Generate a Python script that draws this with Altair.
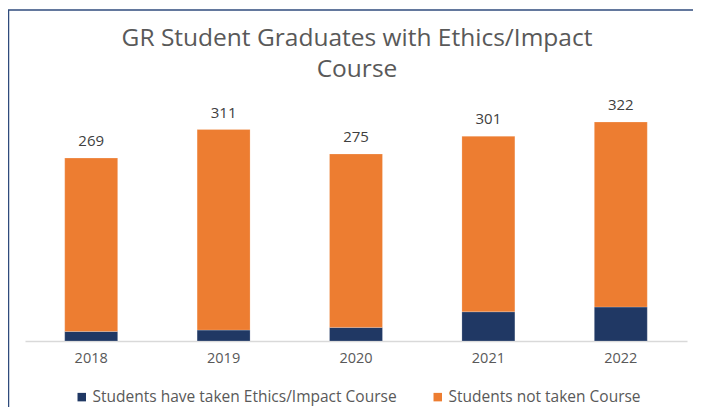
import altair as alt
import pandas as pd

years = ["2018", "2019", "2020", "2021", "2022"]
totals = [269, 311, 275, 301, 322]
taken = [14, 16, 20, 43, 50]
series_names = ["Students have taken Ethics/Impact Course", "Students not taken Course"]
series_colors = ["#203864", "#ED7D31"]
title_lines = ["GR Student Graduates with Ethics/Impact", "Course"]

rows = []
for y, t, k in zip(years, totals, taken):
    rows.append({"year": y, "series": series_names[0], "value": k, "ord": 0})
    rows.append({"year": y, "series": series_names[1], "value": t - k, "ord": 1})
bars_df = pd.DataFrame(rows)
tot_df = pd.DataFrame({"year": years, "total": totals})

FONT = "Open Sans"

x_enc = alt.X("year:N", sort=years, title=None,
              scale=alt.Scale(paddingInner=0.6, paddingOuter=0.3),
              axis=alt.Axis(labelAngle=0, ticks=False, domainColor="#D9D9D9",
                            domainWidth=1.5, labelColor="#595959", labelFontSize=14.5,
                            labelFont=FONT, labelPadding=10))
y_scale = alt.Scale(domain=[0, 350], nice=False)

bars = alt.Chart(bars_df).mark_bar(stroke="#ffffff", strokeWidth=0.5, strokeOpacity=0.4).encode(
    x=x_enc,
    y=alt.Y("value:Q", stack="zero", scale=y_scale, axis=None),
    color=alt.Color("series:N", sort=series_names,
                    scale=alt.Scale(domain=series_names, range=series_colors),
                    legend=alt.Legend(title=None, orient="none", direction="horizontal",
                                      legendX=49, legendY=286, padding=0,
                                      symbolType="square", symbolSize=72,
                                      symbolStrokeWidth=0, labelFontSize=15.5,
                                      labelColor="#595959", labelFont=FONT,
                                      labelOffset=3, columnPadding=33, labelLimit=500)),
    order=alt.Order("ord:Q", sort="ascending"),
)

labels = alt.Chart(tot_df).mark_text(baseline="bottom", dy=-9, fontSize=15,
                                     color="#404040", font=FONT).encode(
    x=alt.X("year:N", sort=years),
    y=alt.Y("total:Q", scale=y_scale),
    text=alt.Text("total:Q"),
)

frame_src = alt.Data(values=[{"k": 1}])
title_mark = alt.Chart(frame_src).mark_text(
    text=title_lines, fontSize=24.5, color="#595959", font=FONT, align="center",
    baseline="alphabetic", lineHeight=31).encode(
    x=alt.value(332), y=alt.value(-57))
frame_top = alt.Chart(frame_src).mark_rule(color="#2F4B7C", strokeWidth=1.5).encode(
    x=alt.value(-17), x2=alt.value(690), y=alt.value(-93))
frame_left = alt.Chart(frame_src).mark_rule(color="#2F4B7C", strokeWidth=1.5).encode(
    x=alt.value(-16.5), y=alt.value(-93), y2=alt.value(320))

chart = alt.layer(bars, labels, title_mark, frame_top, frame_left).properties(
    width=662,
    height=238,
    autosize=alt.AutoSizeParams(type="none"),
    padding={"left": 17, "top": 95, "right": 6, "bottom": 66},
).configure_view(stroke=None)

chart.save("out.html", embed_options={"renderer": "svg", "actions": False})
